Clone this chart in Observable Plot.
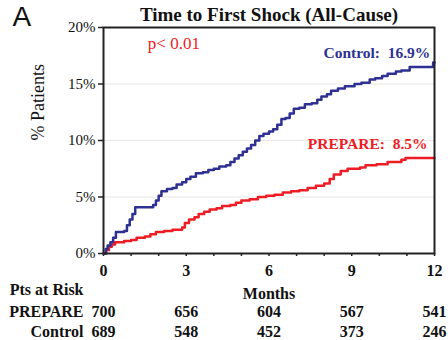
<!DOCTYPE html>
<html><head><meta charset="utf-8">
<script src="https://cdn.jsdelivr.net/npm/d3@7"></script>
<script src="https://cdn.jsdelivr.net/npm/@observablehq/plot@0.6"></script>
<style>body{margin:0;background:#fff}</style>
</head><body><div id="chart"></div>
<script>
// Control (blue) Kaplan-Meier cumulative event %
const controlMonths = [0,0.08,0.15,0.25,0.35,0.45,0.75,0.85,0.95,1.05,1.15,1.8,1.9,2.0,2.1,2.3,2.5,2.65,2.85,3.0,3.15,3.35,3.6,3.8,4.0,4.2,4.45,4.6,4.75,4.9,5.05,5.2,5.35,5.5,5.65,5.8,6.0,6.15,6.3,6.45,6.6,6.75,6.9,7.1,7.3,7.55,7.75,7.9,8.1,8.25,8.5,8.75,9.1,9.35,9.65,9.85,10.1,10.3,10.6,10.8,11.1,11.5,11.95,12];
const controlPct   = [0,0.4,0.7,1.0,1.4,1.9,2.0,2.5,3.0,3.5,4.1,4.3,4.7,5.1,5.5,5.7,5.8,6.1,6.3,6.6,6.8,7.1,7.2,7.4,7.5,7.7,7.8,8.1,8.4,8.7,9.0,9.3,9.6,10.0,10.4,10.6,10.8,11.0,11.4,11.9,12.0,12.4,12.8,12.9,13.2,13.3,13.6,13.9,14.1,14.4,14.6,14.8,15.0,15.1,15.4,15.5,15.7,15.9,16.1,16.2,16.5,16.5,16.9,16.9];
// PREPARE (red)
const prepareMonths = [0,0.1,0.2,0.3,0.42,0.75,1.0,1.2,1.5,1.7,1.9,2.2,2.5,2.85,2.95,3.1,3.3,3.45,3.65,3.85,4.1,4.3,4.6,4.8,5.0,5.3,5.6,5.9,6.2,6.5,6.8,7.1,7.4,7.7,8.0,8.2,8.35,8.6,8.85,9.3,9.5,9.9,10.3,10.8,10.95,12];
const preparePct   = [0,0.3,0.6,0.8,1.0,1.1,1.2,1.4,1.5,1.7,1.9,2.0,2.1,2.3,2.7,3.0,3.2,3.5,3.7,3.9,4.0,4.2,4.3,4.5,4.7,4.8,5.0,5.1,5.2,5.4,5.5,5.6,5.8,6.0,6.2,6.6,7.0,7.3,7.5,7.6,7.8,7.9,8.1,8.3,8.45,8.45];

const yTicks = [0,5,10,15,20];
const yTickLabels = ["0%","5%","10%","15%","20%"];
const xTicks = [0,1,2,3,4,5,6,7,8,9,10,11,12];
const xLabelTicks = [0,3,6,9,12];
const riskMonths = [0,3,6,9,12];
const prepareAtRisk = [700,656,604,567,541];
const controlAtRisk = [689,548,452,373,246];

const controlData = controlMonths.map((m,i)=>({month:m, pct:controlPct[i]}));
const prepareData = prepareMonths.map((m,i)=>({month:m, pct:preparePct[i]}));

const NAVY = "#2e3192", RED = "#ee1c24";
const serif = "Liberation Serif";

const chart = Plot.plot({
  width: 448, height: 340,
  marginTop: 27, marginRight: 14, marginBottom: 87, marginLeft: 103,
  style: {fontFamily: serif, background: "#fff", color: "#111"},
  x: {domain: [0,12], axis: null},
  y: {domain: [0,20], axis: null},
  marks: [
    Plot.gridY([5,10,15], {stroke: "#ddd", strokeOpacity: 0.7}),
    Plot.axisY({ticks: yTicks, tickFormat: () => "", tickSize: 5, stroke: "#222", strokeWidth: 1.5, label: null}),
    Plot.axisX({ticks: xTicks, tickFormat: () => "", tickSize: 3, stroke: "#222", strokeWidth: 1.5, label: null}),
    Plot.text(yTicks, {y: d => d, text: (d,i) => yTickLabels[i], frameAnchor: "left", dx: -8, textAnchor: "end", lineAnchor: "middle", fontSize: 15, fontFamily: serif}),
    Plot.text(xLabelTicks, {x: d => d, text: d => String(d), frameAnchor: "bottom", dy: 17, lineAnchor: "middle", fontSize: 16, fontWeight: "bold", fontFamily: serif}),
    Plot.line(prepareData, {x: "month", y: "pct", curve: "step-after", stroke: RED, strokeWidth: 2.5}),
    Plot.line(controlData, {x: "month", y: "pct", curve: "step-after", stroke: NAVY, strokeWidth: 2.5}),
    Plot.frame({stroke: "#222", strokeWidth: 2}),
    // annotations
    Plot.text(["p< 0.01"], {x: 2.55, y: 18.55, fill: RED, fontSize: 17, lineAnchor: "middle", fontFamily: serif}),
    Plot.text(["Control:  16.9%"], {x: 11.85, y: 17.75, textAnchor: "end", fill: NAVY, fontSize: 15.5, fontWeight: "bold", lineAnchor: "middle", fontFamily: serif}),
    Plot.text(["PREPARE:  8.5%"], {x: 11.75, y: 9.7, textAnchor: "end", fill: RED, fontSize: 15.5, fontWeight: "bold", lineAnchor: "middle", fontFamily: serif}),
    // titles
    Plot.text(["Time to First Shock (All-Cause)"], {frameAnchor: "top", dy: -13, fontSize: 19, fontWeight: "bold", lineAnchor: "middle", fontFamily: serif}),
    Plot.text(["A"], {frameAnchor: "top-left", dx: -91, dy: -10, textAnchor: "start", lineAnchor: "middle", fontSize: 28, fontFamily: "Liberation Sans"}),
    Plot.text(["% Patients"], {frameAnchor: "left", rotate: -90, dx: -65, dy: 0, fontSize: 18, lineAnchor: "middle", fontFamily: serif}),
    Plot.text(["Months"], {frameAnchor: "bottom", dy: 40, fontSize: 16, fontWeight: "bold", lineAnchor: "middle", fontFamily: serif}),
    // risk table
    Plot.text(["Pts at Risk"], {frameAnchor: "bottom-left", dx: -20, dy: 36, textAnchor: "end", fontSize: 16, fontWeight: "bold", lineAnchor: "middle", fontFamily: serif}),
    Plot.text(["PREPARE"], {frameAnchor: "bottom-left", dx: -20, dy: 58, textAnchor: "end", fontSize: 16, fontWeight: "bold", lineAnchor: "middle", fontFamily: serif}),
    Plot.text(["Control"], {frameAnchor: "bottom-left", dx: -20, dy: 78, textAnchor: "end", fontSize: 16, fontWeight: "bold", lineAnchor: "middle", fontFamily: serif}),
    Plot.text(riskMonths, {x: d => d, text: (d,i) => String(prepareAtRisk[i]), frameAnchor: "bottom", dy: 58, fontSize: 16, fontWeight: "bold", lineAnchor: "middle", fontFamily: serif}),
    Plot.text(riskMonths, {x: d => d, text: (d,i) => String(controlAtRisk[i]), frameAnchor: "bottom", dy: 78, fontSize: 16, fontWeight: "bold", lineAnchor: "middle", fontFamily: serif})
  ]
});
document.getElementById("chart").appendChild(chart);
</script>
</body></html>
